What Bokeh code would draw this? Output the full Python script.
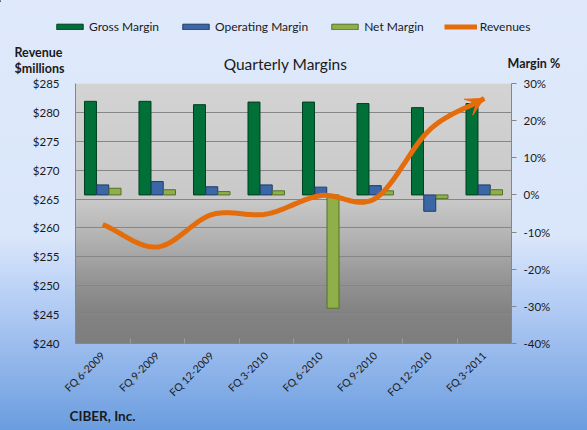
import numpy as np
from bokeh.plotting import figure
from bokeh.layouts import column
from bokeh.models import (Range1d, LinearAxis, FixedTicker, PrintfTickFormatter, Label, Title,
                          Legend, LegendItem, Arrow, VeeHead, ColumnDataSource)
from bokeh.transform import dodge
from bokeh.embed import file_html
from bokeh.resources import INLINE

# ---------------- data ----------------
quarters = ["FQ 6-2009", "FQ 9-2009", "FQ 12-2009", "FQ 3-2010",
            "FQ 6-2010", "FQ 9-2010", "FQ 12-2010", "FQ 3-2011"]
gross_margin = [25.2, 25.2, 24.3, 25.0, 25.0, 24.6, 23.5, 24.6]        # %
operating_margin = [2.7, 3.6, 2.2, 2.7, 2.1, 2.5, -4.4, 2.7]           # %
net_margin = [1.8, 1.4, 0.9, 1.1, -30.5, 1.1, -1.0, 1.4]               # %
revenues = [260.6, 256.7, 262.3, 262.4, 265.6, 265.1, 277.0, 282.4]    # $ millions
revenue_ticks = [240, 245, 250, 255, 260, 265, 270, 275, 280, 285]
margin_ticks = [-40, -30, -20, -10, 0, 10, 20, 30]

FONT = "Lato"
TXT = "#1a1a1a"
ORANGE = "#e46c0a"
GREEN, GREEN_L = "#006f38", "#003f20"
BLUE, BLUE_L = "#3b67a6", "#1f3c66"
OLIVE, OLIVE_L = "#8fb049", "#55702a"
AXIS = "#868686"

W = 587
TOP_H = 75
ML, MR, MT = 75, 76, 8
FH = 260
MAIN_H = 430 - TOP_H
MB = MAIN_H - MT - FH

# ================= main chart =================
n = len(quarters)
xs = np.arange(n) + 0.5

p = figure(width=W, height=MAIN_H, output_backend="svg", toolbar_location=None,
           x_range=Range1d(0, n), y_range=Range1d(revenue_ticks[0], revenue_ticks[-1]),
           min_border_left=ML, min_border_right=MR, min_border_top=MT, min_border_bottom=MB)
p.frame_align = False
p.extra_y_ranges = {"margin": Range1d(margin_ticks[0], margin_ticks[-1])}
p.outline_line_color = None
p.background_fill_alpha = 0
p.border_fill_alpha = 0

# plot-area grey gradient
stops = [(0.0, 0xd4), (0.45, 0xc9), (0.60, 0xb2), (0.75, 0x96), (0.88, 0x83), (1.0, 0x7e)]
rows = np.linspace(0, 1, FH)
g = np.interp(rows, [s[0] for s in stops], [s[1] for s in stops]).astype(np.uint32)
rgba = (255 << 24) | (g << 16) | (g << 8) | g
img = rgba[::-1].reshape(FH, 1).astype(np.uint32)
ir = p.image_rgba(image=[img], x=0, y=revenue_ticks[0], dw=n,
                  dh=revenue_ticks[-1] - revenue_ticks[0])
ir.level = "image"

# axes
p.xaxis.ticker = FixedTicker(ticks=list(xs), minor_ticks=list(np.arange(n + 1)))
p.xaxis.major_label_overrides = {float(x): q for x, q in zip(xs, quarters)}
p.xaxis.major_label_orientation = np.pi / 4
p.xaxis.major_label_standoff = 10
p.xaxis.major_tick_line_color = None
p.xaxis.major_tick_out = 0
p.xaxis.major_tick_in = 0
p.xaxis.minor_tick_line_color = "#9c9c9c"
p.xaxis.minor_tick_in = 5
p.xaxis.minor_tick_out = 0
p.xaxis.axis_line_color = AXIS
p.xaxis.major_label_text_font = FONT
p.xaxis.major_label_text_font_size = "10.5px"
p.xaxis.major_label_text_color = TXT

p.yaxis.ticker = FixedTicker(ticks=revenue_ticks)
p.yaxis.formatter = PrintfTickFormatter(format="$%d")
p.yaxis.major_tick_out = 0
p.yaxis.major_tick_in = 0
p.yaxis.minor_tick_line_color = None
p.yaxis.major_label_standoff = 16
p.yaxis.axis_line_color = AXIS
p.yaxis.major_label_text_font = FONT
p.yaxis.major_label_text_font_size = "11.5px"
p.yaxis.major_label_text_color = TXT

ax2 = LinearAxis(y_range_name="margin", ticker=FixedTicker(ticks=margin_ticks),
                 formatter=PrintfTickFormatter(format="%d%%"))
ax2.major_tick_out = 5
ax2.major_tick_in = 0
ax2.major_tick_line_color = AXIS
ax2.minor_tick_line_color = None
ax2.major_label_standoff = 7
ax2.axis_line_color = AXIS
ax2.major_label_text_font = FONT
ax2.major_label_text_font_size = "11.5px"
ax2.major_label_text_color = TXT
p.add_layout(ax2, "right")

p.xgrid.visible = False
p.ygrid.ticker = FixedTicker(ticks=revenue_ticks)
p.ygrid.grid_line_color = AXIS
p.ygrid.grid_line_width = 1

# bars
src = ColumnDataSource(dict(x=xs, gross=gross_margin, op=operating_margin, net=net_margin))
bw = 0.22
p.vbar(x=dodge("x", -0.225, range=p.x_range), top="gross", bottom=0, width=bw,
       source=src, y_range_name="margin", fill_color=GREEN, line_color=GREEN_L)
p.vbar(x=dodge("x", 0.0, range=p.x_range), top="op", bottom=0, width=bw,
       source=src, y_range_name="margin", fill_color=BLUE, line_color=BLUE_L)
p.vbar(x=dodge("x", 0.225, range=p.x_range), top="net", bottom=0, width=bw,
       source=src, y_range_name="margin", fill_color=OLIVE, line_color=OLIVE_L)

# smoothed revenue line
def catmull_rom(x, y, steps=24):
    P = np.column_stack([x, y]).astype(float)
    P = np.vstack([2 * P[0] - P[1], P, 2 * P[-1] - P[-2]])
    out = []
    t = np.linspace(0, 1, steps, endpoint=False)[:, None]
    for i in range(1, len(P) - 2):
        p0, p1, p2, p3 = P[i - 1], P[i], P[i + 1], P[i + 2]
        seg = 0.5 * ((2 * p1) + (-p0 + p2) * t + (2 * p0 - 5 * p1 + 4 * p2 - p3) * t ** 2
                     + (-p0 + 3 * p1 - 3 * p2 + p3) * t ** 3)
        out.append(seg)
    out.append(P[-2][None, :])
    return np.vstack(out)

curve = catmull_rom(xs, revenues)
p.line(curve[:, 0], curve[:, 1], line_color=ORANGE, line_width=5,
       line_join="round", line_cap="butt")
p.add_layout(Arrow(end=VeeHead(size=18, fill_color=ORANGE, line_color=ORANGE),
                   x_start=curve[-3, 0], y_start=curve[-3, 1],
                   x_end=curve[-1, 0], y_end=curve[-1, 1],
                   line_color=ORANGE, line_width=5))

# footer text
p.add_layout(Title(text="CIBER, Inc.", align="left", offset=-6, standoff=0,
                   text_font=FONT, text_font_size="13.5px", text_font_style="bold",
                   text_color=TXT), "below")

# ================= header strip (legend + titles) =================
top = figure(width=W, height=TOP_H, output_backend="svg", toolbar_location=None,
             x_range=Range1d(0, W), y_range=Range1d(TOP_H, 0),
             x_axis_type=None, y_axis_type=None, min_border=0)
top.outline_line_color = None
top.background_fill_alpha = 0
top.border_fill_alpha = 0
top.frame_align = False

# legend proxies: one point each, placed outside the visible range
lg_gross = top.vbar(x=[-50], top=[1], bottom=[0], width=1, fill_color=GREEN, line_color=GREEN_L)
lg_op = top.vbar(x=[-50], top=[1], bottom=[0], width=1, fill_color=BLUE, line_color=BLUE_L)
lg_net = top.vbar(x=[-50], top=[1], bottom=[0], width=1, fill_color=OLIVE, line_color=OLIVE_L)
lg_rev = top.line(x=[-60, -50], y=[0, 0], line_color=ORANGE, line_width=5)
legend = Legend(items=[LegendItem(label="Gross Margin", renderers=[lg_gross]),
                       LegendItem(label="Operating Margin", renderers=[lg_op]),
                       LegendItem(label="Net Margin", renderers=[lg_net]),
                       LegendItem(label="Revenues", renderers=[lg_rev])],
                orientation="horizontal", location=(53, TOP_H - 34),
                glyph_width=33, glyph_height=7, label_standoff=3, spacing=20,
                padding=0, margin=0, background_fill_alpha=0, border_line_alpha=0,
                label_text_font=FONT, label_text_font_size="12px",
                label_text_color=TXT, label_height=16)
top.add_layout(legend)

def text_at(fig, text, x, y, size, bold=False, align="left"):
    fig.add_layout(Label(x=x, y=y, text=text, text_font=FONT, text_font_size=size,
                         text_font_style="bold" if bold else "normal",
                         text_align=align, text_baseline="middle", text_color=TXT))

text_at(top, "Revenue", 14, 52, "12.5px", bold=True)
text_at(top, "$millions", 14, 68, "12.5px", bold=True)
text_at(top, "Quarterly Margins", 285, 63, "15.5px", align="center")
text_at(top, "Margin %", 507, 63, "12.5px", bold=True)

page = column(top, p, spacing=0)
page.styles = {"background": "linear-gradient(to bottom, #dfe9fb 0%, #dae6fa 55%, "
                             "#c6d9f8 63%, #9dbdee 80%, #6a9ddf 100%)"}

open("out.html", "w").write(file_html(page, INLINE))
